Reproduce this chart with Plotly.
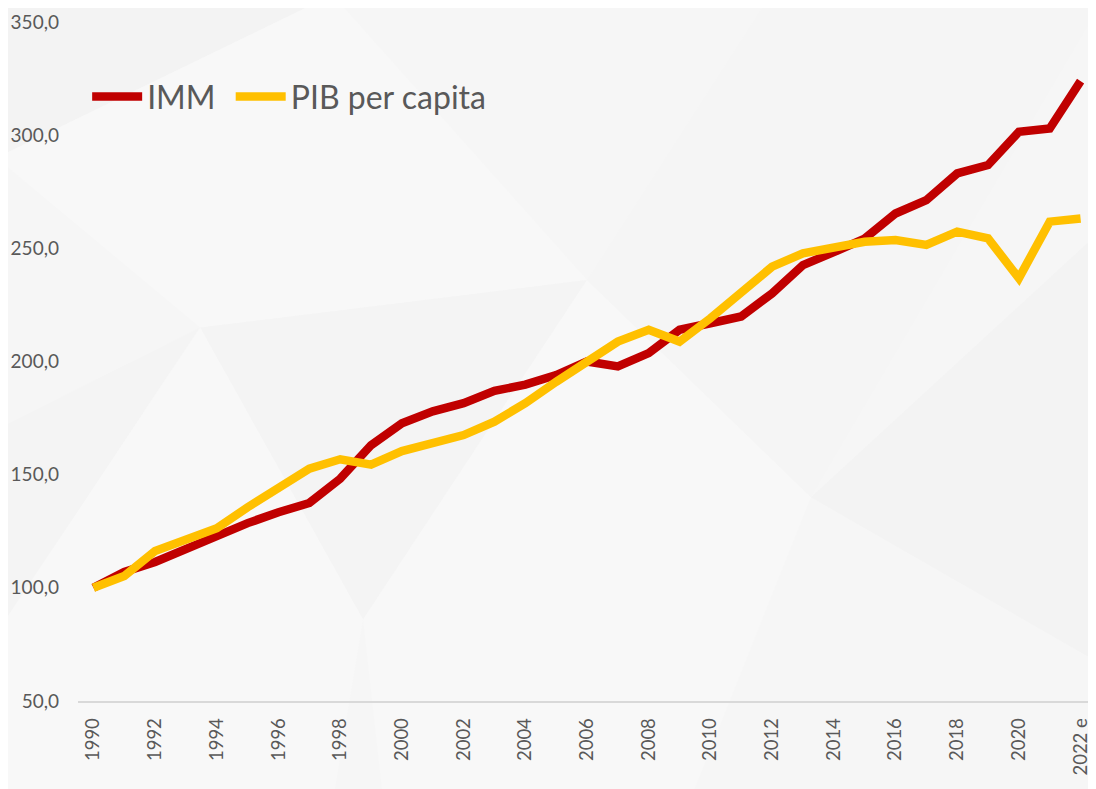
import plotly.graph_objects as go

years = [str(y) for y in range(1990, 2022)] + ["2022 e"]

imm = [100.0, 107.0, 111.4, 117.4, 123.0, 128.6, 133.4, 137.5, 148.2, 163.0,
       172.7, 178.0, 181.6, 187.0, 189.8, 194.0, 200.0, 197.8, 203.7, 214.0,
       216.9, 219.9, 230.1, 242.6, 248.3, 254.3, 265.4, 271.3, 283.1, 286.8,
       301.5, 302.9, 323.9]

pib = [100.0, 105.2, 116.3, 121.8, 126.3, 135.6, 143.8, 152.7, 156.8, 154.4,
       160.4, 163.8, 167.5, 173.4, 181.6, 191.0, 200.3, 208.8, 214.0, 208.8,
       219.1, 230.1, 241.9, 247.8, 250.0, 252.9, 253.7, 251.5, 257.4, 254.4,
       236.8, 261.8, 263.2]

tick_labels = years[::2]
y_ticks = [50, 100, 150, 200, 250, 300, 350]

# faint background facets (decoration, paper coordinates)
facets = [
    ("M -0.08 1.04 L 0.25 1.04 L -0.08 0.8 Z", "#f3f3f3"),
    ("M -0.08 0.8 L 0.25 1.04 L 0.5 0.62 L 0.12 0.55 Z", "#f8f8f8"),
    ("M 0.12 0.55 L 0.5 0.62 L 0.28 0.12 Z", "#f4f4f4"),
    ("M -0.08 0.4 L 0.12 0.55 L -0.08 0.1 Z", "#f4f4f4"),
    ("M 0.28 0.12 L 0.5 0.62 L 0.72 0.3 L 0.6 -0.15 L 0.3 -0.15 Z", "#f8f8f8"),
    ("M 0.5 0.62 L 0.68 1.04 L 1.01 1.04 L 0.72 0.3 Z", "#f5f5f5"),
    ("M 0.72 0.3 L 1.01 0.7 L 1.01 0.05 Z", "#f3f3f3"),
    ("M -0.08 0.1 L 0.12 0.55 L 0.28 0.12 L 0.25 -0.15 L -0.08 -0.15 Z", "#f8f8f8"),
]

FONT = "Lato"
GREY = "#595959"

fig = go.Figure()
fig.add_trace(go.Scatter(x=years, y=imm, mode="lines", name="IMM",
                         line=dict(color="#C00000", width=8.5), legend="legend"))
fig.add_trace(go.Scatter(x=years, y=pib, mode="lines", name="PIB per capita",
                         line=dict(color="#FFC000", width=8.5), legend="legend2"))

shapes = [dict(type="path", path=p, xref="paper", yref="paper", fillcolor=c,
               line=dict(width=0), layer="below") for p, c in facets]

legend_common = dict(orientation="h", y=0.89, xanchor="left", yanchor="middle",
                     font=dict(family=FONT, size=32, color=GREY),
                     bgcolor="rgba(0,0,0,0)", itemwidth=50)

fig.update_layout(
    width=1088, height=781,
    margin=dict(l=70, r=0, t=14, b=88),
    paper_bgcolor="#f6f6f6",
    plot_bgcolor="rgba(0,0,0,0)",
    separators=", ",
    font=dict(family=FONT, color=GREY, size=18),
    showlegend=True,
    shapes=shapes,
    legend=dict(x=0.009, **legend_common),
    legend2=dict(x=0.150, **legend_common),
)
fig.update_xaxes(type="category", tickmode="array", tickvals=tick_labels,
                 ticktext=tick_labels, tickangle=-90, showgrid=False,
                 showline=True, linecolor="#d9d9d9", linewidth=1.5,
                 ticks="", ticklabelstandoff=8,
                 tickfont=dict(family=FONT, size=18.5, color=GREY),
                 range=[-0.5, 32.5])
fig.update_yaxes(range=[50, 350], tickvals=y_ticks, tickformat=".1f",
                 showgrid=False, zeroline=False, showline=False, ticks="",
                 ticklabelstandoff=18,
                 tickfont=dict(family=FONT, size=19, color=GREY))

fig.write_html("out.html")
